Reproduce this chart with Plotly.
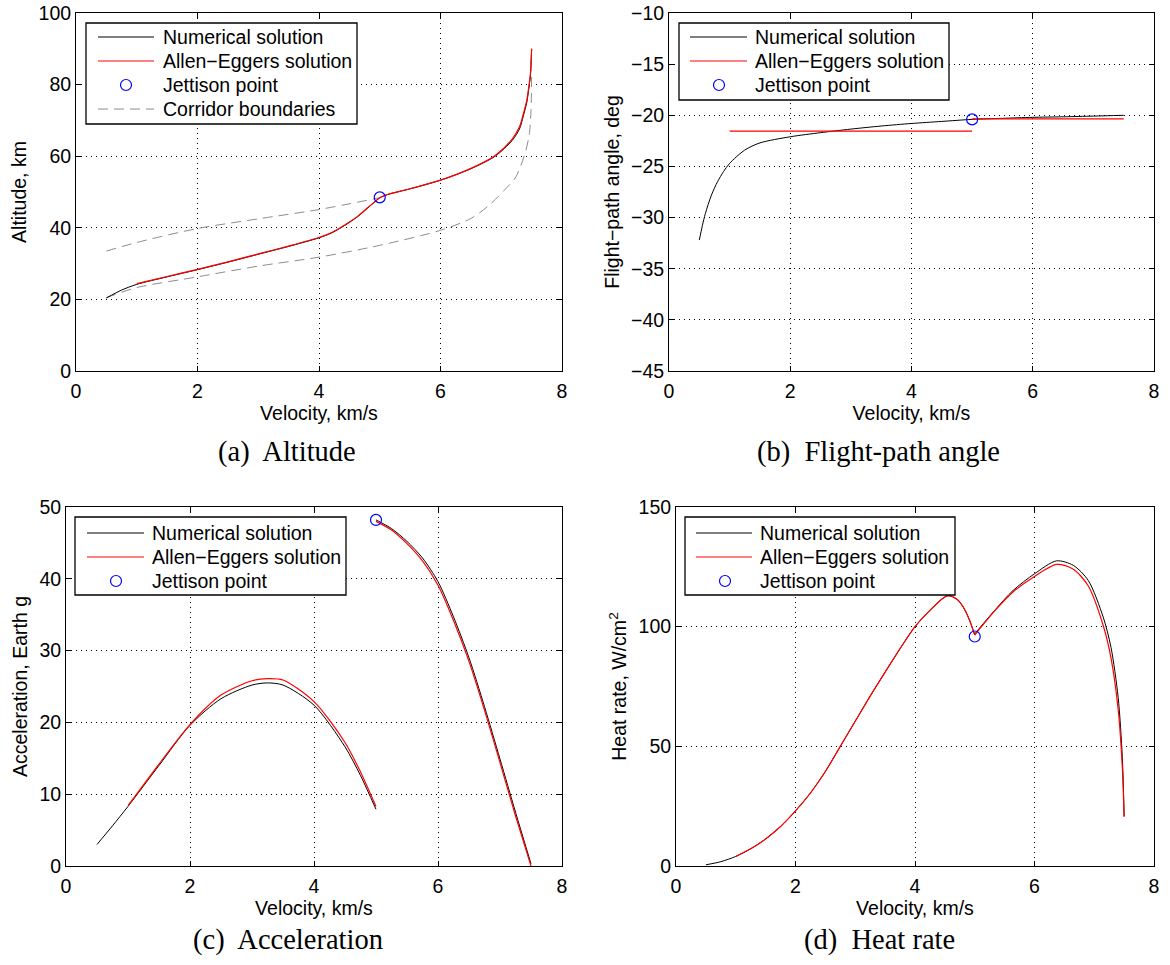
import plotly.graph_objects as go

# ---------------- data ----------------
# (a) Altitude vs velocity
alt_num_v = [0.5, 0.75, 1.0, 1.5, 2.0, 2.5, 3.0, 3.5, 4.0, 4.2, 4.35, 4.5, 4.65, 4.8, 4.9, 5.0,
             5.13, 5.5, 6.0, 6.5, 6.9, 7.18, 7.3, 7.36, 7.42, 7.45, 7.48, 7.5]
alt_num_h = [20.4, 22.6, 24.2, 26.3, 28.3, 30.4, 32.6, 34.8, 37.2, 38.5, 39.9, 41.5, 43.3, 45.5, 47.0, 48.4,
             49.3, 50.9, 53.3, 56.5, 60.0, 64.4, 67.6, 71.0, 75.0, 78.4, 82.5, 90.0]
alt_ae_v = [1.0, 1.5, 2.0, 2.5, 3.0, 3.5, 4.0, 4.2, 4.35, 4.5, 4.65, 4.8, 4.9, 5.0,
            5.13, 5.5, 6.0, 6.5, 6.9, 7.18, 7.3, 7.36, 7.42, 7.45, 7.48, 7.5]
alt_ae_h = [24.4, 26.4, 28.4, 30.5, 32.7, 34.9, 37.3, 38.6, 40.0, 41.6, 43.4, 45.6, 47.0, 48.4,
            49.3, 50.9, 53.3, 56.6, 60.2, 64.8, 68.2, 71.6, 75.6, 79.0, 83.0, 90.0]
corr_up_v = [0.5, 1.0, 2.0, 3.0, 4.0, 5.0]
corr_up_h = [33.5, 35.9, 39.8, 42.5, 45.1, 48.4]
corr_lo_v = [0.5, 1.0, 2.0, 3.0, 4.0, 5.0, 6.0, 6.5, 6.8, 7.05, 7.24, 7.39, 7.46, 7.49, 7.5]
corr_lo_h = [20.5, 23.3, 26.3, 29.3, 31.8, 35.1, 39.3, 42.6, 46.3, 50.5, 54.2, 60.7, 66.0, 72.8, 84.0]

# (b) Flight-path angle vs velocity
fpa_num_v = [0.5, 0.55, 0.6, 0.7, 0.8, 0.9, 1.0, 1.25, 1.5, 2.0, 2.5, 3.0, 3.5, 4.0,
             4.5, 5.0, 5.5, 6.0, 6.5, 7.0, 7.5]
fpa_num_g = [-32.2, -30.8, -29.6, -27.8, -26.5, -25.5, -24.7, -23.4, -22.7, -22.1, -21.7,
             -21.35, -21.05, -20.8, -20.6, -20.4, -20.3, -20.2, -20.15, -20.08, -20.0]
fpa_ae_v = [1.0, 5.0, None, 5.0, 7.5]
fpa_ae_g = [-21.55, -21.55, None, -20.36, -20.36]

# (c) Acceleration vs velocity
acc_num_v = [0.5, 0.75, 1.0, 1.5, 2.0, 2.5, 3.0, 3.25, 3.5, 4.0, 4.5, 4.75, 5.0, None,
             5.0, 5.25, 5.5, 5.75, 6.0, 6.25, 6.5, 6.75, 7.0, 7.25, 7.5]
acc_num_a = [3.0, 5.6, 8.3, 14.0, 19.6, 23.3, 25.2, 25.5, 25.2, 22.4, 16.6, 12.6, 7.9, None,
             48.2, 47.0, 45.2, 42.9, 39.6, 34.7, 29.0, 22.2, 14.9, 7.5, 0.3]
acc_ae_v = [1.0, 1.5, 2.0, 2.5, 3.0, 3.25, 3.5, 4.0, 4.5, 4.75, 5.0, None,
            5.0, 5.25, 5.5, 5.75, 6.0, 6.25, 6.5, 6.75, 7.0, 7.25, 7.5]
acc_ae_a = [8.4, 14.2, 19.7, 23.8, 25.8, 26.1, 25.9, 22.9, 17.2, 13.1, 8.3, None,
            48.0, 46.8, 44.9, 42.5, 39.1, 34.2, 28.5, 21.7, 14.4, 7.0, 0.0]

# (d) Heat rate vs velocity
heat_num_v = [0.5, 0.75, 1.0, 1.25, 1.5, 1.75, 2.0, 2.25, 2.5, 2.75, 3.0, 3.25, 3.5, 3.75,
              4.0, 4.25, 4.54, 4.7, 4.8, 4.9, 5.0, None,
              5.0, 5.1, 5.33, 5.64, 6.0, 6.37, 6.65, 6.9, 7.15, 7.28, 7.4, 7.47, 7.5]
heat_num_q = [0.5, 1.8, 4.0, 7.2, 11.3, 16.5, 23.0, 30.5, 39.5, 50.0, 60.5, 71.0, 81.0, 90.8,
              100.0, 106.8, 112.9, 111.5, 108.5, 103.5, 96.5, None,
              97.0, 100.0, 106.7, 115.1, 122.1, 127.5, 125.6, 119.3, 104.0, 91.4, 70.5, 45.3, 20.9]
heat_ae_v = [1.0, 1.25, 1.5, 1.75, 2.0, 2.25, 2.5, 2.75, 3.0, 3.25, 3.5, 3.75,
             4.0, 4.25, 4.54, 4.7, 4.8, 4.9, 5.0, None,
             5.0, 5.1, 5.33, 5.64, 6.0, 6.37, 6.65, 6.9, 7.15, 7.28, 7.4, 7.47, 7.5]
heat_ae_q = [4.0, 7.2, 11.3, 16.5, 23.0, 30.5, 39.5, 50.0, 60.5, 71.0, 81.0, 90.8,
             100.0, 106.8, 112.9, 111.5, 108.5, 103.5, 96.5, None,
             96.5, 99.6, 106.5, 114.5, 121.0, 126.0, 124.0, 117.0, 100.5, 87.0, 65.5, 41.0, 20.5]

# jettison points
jet_v = [5.0, 5.0, 5.0, 5.0]
jet_y = [48.5, -20.4, 48.2, 95.9]

legend_labels = ["Numerical solution", "Allen\u2212Eggers solution", "Jettison point",
                 "Corridor boundaries"]
y_titles = ["Altitude, km", "Flight\u2212path angle, deg", "Acceleration, Earth g",
            "Heat rate, W/cm<sup>2</sup>"]
x_title = "Velocity, km/s"
captions = ["(a)  Altitude", "(b)  Flight-path angle", "(c)  Acceleration", "(d)  Heat rate"]
y_ranges = [[0, 100], [-45, -10], [0, 50], [0, 150]]
y_dticks = [20, 5, 10, 50]

# ---------------- layout geometry (screen pixels) ----------------
W, H = 1170, 965


def px(x):
    return x / W


def py(y):
    return 1 - y / H


boxes = [(76, 562, 13, 371), (669, 1154, 13, 371), (66, 562, 507, 866), (676, 1154, 507, 866)]
# legend: box (x0, y0, x1, y1), line sample x0/x1, circle x, text x, row ys
legends = [
    dict(box=(86, 23, 357, 124), lx=(98, 154), cx=126, tx=161, rows=[37, 61, 85, 109]),
    dict(box=(679, 23, 949, 100), lx=(690, 747), cx=719, tx=753, rows=[37, 61, 85]),
    dict(box=(75, 517, 346, 595), lx=(87, 144), cx=116, tx=150, rows=[533, 557, 581]),
    dict(box=(685, 517, 955, 595), lx=(696, 752), cx=725, tx=758, rows=[533, 557, 581]),
]
caption_pos = [(287, 452), (878, 452), (288, 940), (879, 940)]

FONT = "Liberation Sans, Arial, Helvetica, sans-serif"
FS = 19.5
GRAY = "#8c8c8c"
DASH = "10px,6px"

fig = go.Figure()

series = [
    (alt_num_v, alt_num_h, alt_ae_v, alt_ae_h),
    (fpa_num_v, fpa_num_g, fpa_ae_v, fpa_ae_g),
    (acc_num_v, acc_num_a, acc_ae_v, acc_ae_a),
    (heat_num_v, heat_num_q, heat_ae_v, heat_ae_q),
]

for i, (nv, ny, av, ay) in enumerate(series):
    sfx = "" if i == 0 else str(i + 1)
    xa, ya = "x" + sfx, "y" + sfx
    if i == 0:
        fig.add_trace(go.Scatter(x=corr_up_v, y=corr_up_h, mode="lines",
                                 line=dict(color=GRAY, width=1, dash=DASH, shape="spline",
                                           smoothing=0.8),
                                 name=legend_labels[3], xaxis=xa, yaxis=ya))
        fig.add_trace(go.Scatter(x=corr_lo_v, y=corr_lo_h, mode="lines",
                                 line=dict(color=GRAY, width=1, dash=DASH, shape="spline",
                                           smoothing=0.8),
                                 name=legend_labels[3], xaxis=xa, yaxis=ya))
    fig.add_trace(go.Scatter(x=nv, y=ny, mode="lines", connectgaps=False,
                             line=dict(color="black", width=1, shape="spline", smoothing=0.8),
                             name=legend_labels[0], xaxis=xa, yaxis=ya))
    fig.add_trace(go.Scatter(x=av, y=ay, mode="lines", connectgaps=False,
                             line=dict(color="#ff0000", width=1.2, shape="spline", smoothing=0.8),
                             name=legend_labels[1], xaxis=xa, yaxis=ya))
    fig.add_trace(go.Scatter(x=[jet_v[i]], y=[jet_y[i]], mode="markers",
                             marker=dict(symbol="circle-open", size=11, color="#0000ff",
                                         line=dict(width=1.2, color="#0000ff")),
                             name=legend_labels[2], xaxis=xa, yaxis=ya))

layout = dict(
    width=W, height=H,
    margin=dict(l=0, r=0, t=0, b=0),
    paper_bgcolor="white", plot_bgcolor="white",
    font=dict(family=FONT, size=FS, color="black"),
    showlegend=False,
)

for i, (x0, x1, y0, y1) in enumerate(boxes):
    sfx = "" if i == 0 else str(i + 1)
    common = dict(
        showline=True, linecolor="black", linewidth=1, mirror="ticks",
        ticks="inside", ticklen=5, tickcolor="black", tickwidth=1,
        showgrid=True, gridcolor="black", gridwidth=1, griddash="1px,4px",
        zeroline=False, tickfont=dict(family=FONT, size=FS, color="black"),
        automargin=False, ticklabeloverflow="allow",
    )
    layout["xaxis" + sfx] = dict(
        common, domain=[px(x0), px(x1)], anchor="y" + sfx,
        range=[0, 8], tickmode="linear", tick0=0, dtick=2,
        title=dict(text=x_title, font=dict(family=FONT, size=FS), standoff=4),
        ticklabelstandoff=3,
    )
    layout["yaxis" + sfx] = dict(
        common, domain=[py(y1), py(y0)], anchor="x" + sfx,
        range=y_ranges[i], tickmode="linear", tick0=y_ranges[i][0], dtick=y_dticks[i],
        title=dict(text=y_titles[i], font=dict(family=FONT, size=FS), standoff=6),
        ticklabelstandoff=0,
    )

fig.update_layout(**layout)

# ---------------- legends (drawn as boxes with samples and text) ----------------
for i, lg in enumerate(legends):
    bx0, by0, bx1, by1 = lg["box"]
    fig.add_shape(type="rect", xref="paper", yref="paper", layer="above",
                  x0=px(bx0), x1=px(bx1), y0=py(by1), y1=py(by0),
                  line=dict(color="black", width=1.3), fillcolor="white")
    n = len(lg["rows"])
    for k in range(n):
        ry = lg["rows"][k]
        if k == 0 or k == 1 or k == 3:
            color = "black" if k == 0 else ("#ff0000" if k == 1 else GRAY)
            dash = DASH if k == 3 else "solid"
            fig.add_shape(type="line", xref="paper", yref="paper", layer="above",
                          x0=px(lg["lx"][0]), x1=px(lg["lx"][1]), y0=py(ry), y1=py(ry),
                          line=dict(color=color, width=1, dash=dash))
        else:
            r = 5.5
            fig.add_shape(type="circle", xref="paper", yref="paper", layer="above",
                          x0=px(lg["cx"] - r), x1=px(lg["cx"] + r),
                          y0=py(ry + r), y1=py(ry - r),
                          line=dict(color="#0000ff", width=1.2))
        fig.add_annotation(x=px(lg["tx"]), y=py(ry), xref="paper", yref="paper",
                           text=legend_labels[k], showarrow=False,
                           xanchor="left", yanchor="middle",
                           font=dict(family=FONT, size=FS, color="black"))

for i, (cx, cy) in enumerate(caption_pos):
    fig.add_annotation(x=px(cx), y=py(cy), xref="paper", yref="paper",
                       text=captions[i], showarrow=False, xanchor="center", yanchor="middle",
                       font=dict(family="Liberation Serif, Times New Roman, serif", size=28.5,
                                 color="black"))

fig.write_html("out.html", config={"displayModeBar": False, "staticPlot": True},
               post_script="document.body.style.margin='0px';document.body.style.overflow='hidden';")
